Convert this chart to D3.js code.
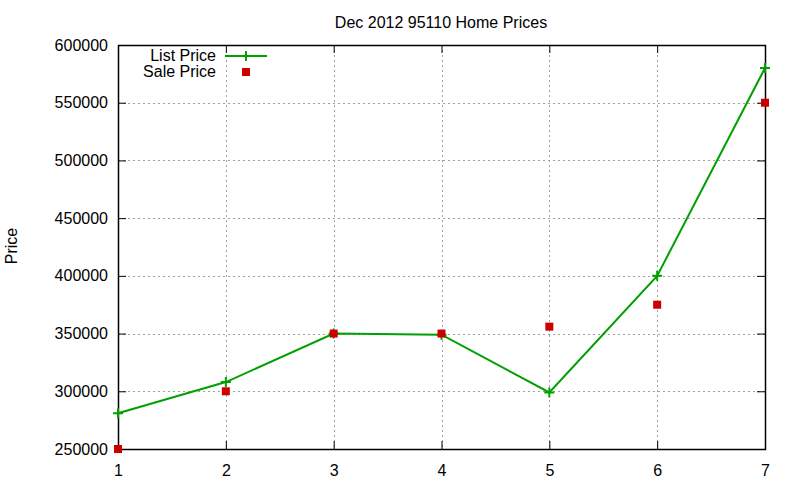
<!DOCTYPE html>
<html><head><meta charset="utf-8">
<script src="https://cdn.jsdelivr.net/npm/d3@7"></script>
<style>body{margin:0;background:#fff}svg{display:block}text{font-family:"Liberation Sans",Arial,sans-serif}</style>
</head><body>
<svg id="c" width="800" height="480"></svg>
<script>
const xValues = [1, 2, 3, 4, 5, 6, 7];
const listPrice = [281000, 308000, 350000, 349000, 299000, 400000, 580000];
const salePrice = [250000, 300000, 350000, 350000, 356000, 375000, 550000];
const yTicks = [250000, 300000, 350000, 400000, 450000, 500000, 550000, 600000];
const xTicks = [1, 2, 3, 4, 5, 6, 7];

const svg = d3.select("#c");
const L = 118, R = 765, T = 45, B = 449;
const x = d3.scaleLinear().domain([1, 7]).range([L, R]);
const y = d3.scaleLinear().domain([250000, 600000]).range([B, T]);
const green = "#00a000", red = "#cc0000";
const FS = "16px";

// grid
const g = svg.append("g");
g.selectAll(".gx").data(xTicks.slice(1, -1)).join("line")
  .attr("x1", d => Math.round(x(d)) + 0.5).attr("x2", d => Math.round(x(d)) + 0.5)
  .attr("y1", T).attr("y2", B).attr("stroke", "#a0a0a0").attr("stroke-dasharray", "2,3");
g.selectAll(".gy").data(yTicks.slice(1, -1)).join("line")
  .attr("y1", d => Math.round(y(d)) + 0.5).attr("y2", d => Math.round(y(d)) + 0.5)
  .attr("x1", L).attr("x2", R).attr("stroke", "#a0a0a0").attr("stroke-dasharray", "2,3");

// axes (ticks inward, mirrored)
const axL = d3.axisLeft(y).tickValues(yTicks).tickSize(-8).tickPadding(10).tickFormat(d3.format("d"));
const axR = d3.axisRight(y).tickValues(yTicks).tickSize(-8).tickFormat("");
const axB = d3.axisBottom(x).tickValues(xTicks).tickSize(-8).tickPadding(16).tickFormat(d3.format("d"));
const axT = d3.axisTop(x).tickValues(xTicks).tickSize(-8).tickFormat("");
function style(sel){ sel.select(".domain").remove(); sel.selectAll("line").attr("stroke","#000");
  sel.selectAll("text").attr("font-size",FS).attr("fill","#000").style("font-family","'Liberation Sans',Arial,sans-serif"); }
svg.append("g").attr("transform",`translate(${L},0)`).call(axL).call(style);
svg.append("g").attr("transform",`translate(${R},0)`).call(axR).call(style);
svg.append("g").attr("transform",`translate(0,${B})`).call(axB).call(style);
svg.append("g").attr("transform",`translate(0,${T})`).call(axT).call(style);

// border
svg.append("rect").attr("x", L + 0.5).attr("y", T + 0.5).attr("width", R - L).attr("height", B - T)
  .attr("fill", "none").attr("stroke", "#000").attr("stroke-width", 1.5);

// list price line
const data = xValues.map((v, i) => ({x: v, l: listPrice[i], s: salePrice[i]}));
svg.append("path").datum(data)
  .attr("d", d3.line().x(d => x(d.x)).y(d => y(d.l)))
  .attr("fill", "none").attr("stroke", green).attr("stroke-width", 2);
function plus(sel, cx, cy){
  sel.append("path").attr("d", `M${cx-5},${cy}H${cx+5}M${cx},${cy-5}V${cy+5}`)
    .attr("stroke", green).attr("stroke-width", 2);
}
data.forEach(d => plus(svg, x(d.x), y(d.l)));
// sale price squares
svg.selectAll(".sq").data(data).join("rect")
  .attr("x", d => x(d.x) - 4).attr("y", d => y(d.s) - 4)
  .attr("width", 8).attr("height", 8).attr("fill", red);

// legend
svg.append("text").attr("x", 216).attr("y", 61).attr("text-anchor", "end").attr("font-size", FS).text("List Price");
svg.append("line").attr("x1", 225).attr("x2", 267).attr("y1", 56).attr("y2", 56).attr("stroke", green).attr("stroke-width", 2);
plus(svg, 246, 56);
svg.append("text").attr("x", 216).attr("y", 77).attr("text-anchor", "end").attr("font-size", FS).text("Sale Price");
svg.append("rect").attr("x", 242).attr("y", 68).attr("width", 8).attr("height", 8).attr("fill", red);

// title and ylabel
svg.append("text").attr("x", 441).attr("y", 28).attr("text-anchor", "middle").attr("font-size", FS).text("Dec 2012 95110 Home Prices");
svg.append("text").attr("transform", "translate(17,246) rotate(-90)").attr("text-anchor", "middle").attr("font-size", FS).text("Price");
</script>
</body></html>
